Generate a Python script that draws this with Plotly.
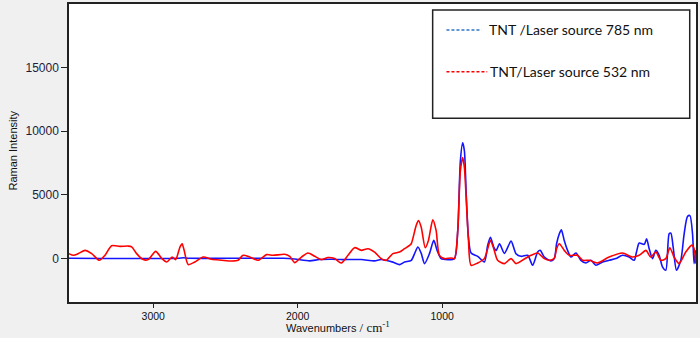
import plotly.graph_objects as go

# ---- data (wavenumber axis as printed on the reference, reversed) ----
red_x = [3583, 3553, 3518, 3472, 3426, 3373, 3334, 3288, 3230, 3173, 3149, 3115, 3069, 3035,
         2983, 2942, 2907, 2869, 2845, 2815, 2800, 2786, 2758, 2712, 2654, 2597, 2527, 2458,
         2413, 2378, 2332, 2274, 2216, 2171, 2090, 2055, 2021, 1974, 1929, 1882, 1836, 1790,
         1744, 1698, 1652, 1606, 1560, 1514, 1468, 1422, 1387, 1341, 1295, 1260, 1226, 1214,
         1180, 1164, 1145, 1117, 1095, 1065, 1042, 1019, 984, 938, 915, 892, 874, 858, 846,
         834, 818, 800, 754, 708, 685, 666, 643, 616, 569, 523, 489, 431, 385, 339, 293, 258,
         224, 208, 189, 155, 120, 63, 28, -18, -75, -156, -248, -317, -364, -410, -444, -479,
         -514, -548, -576, -605, -640, -686, -728, -744, -756]
red_y = [370, 234, 370, 625, 370, -156, 234, 990, 937, 960, 900, 370, -104, -104,
         547, 0, -290, 100, -104, 885, 1146, 625, -495, -290, 100, -80, -150, -210,
         -150, 234, 100, -156, 290, 234, 312, 150, -340, 100, 415, 156, -104, 60,
         -25, -365, 234, 835, 625, 755, 490, -25, -156, 370, 490, 755, 1016, 1146,
         2578, 2970, 2445, 835, 1406, 3020, 2190, 234, -25, 25, -25, 2190, 6875, 7915, 7130,
         4790, 1406, -547, -365, -25, 755, 1406, 755, -156, -415, -25, -415, -60, 234, 415, -25, -156,
         0, 755, 1146, 625, 234, 234, -156, -156, -365, 100, 415, 100, 234, 625, 100, 490,
         -156, -25, 835, 100, -415, 490, 1040, 755, -415]

blue_x = [3583, 2830, 2790, 2750, 2100, 2021, 1917, 1850, 1760, 1700, 1560, 1468, 1422, 1341,
          1295, 1260, 1214, 1191, 1168, 1145, 1122, 1088, 1058, 1035, 1007, 961, 915, 892, 874,
          858, 846, 834, 818, 800, 754, 708, 685, 666, 643, 626, 603, 569, 523, 489, 454, 408,
          374, 339, 321, 293, 247, 224, 208, 189, 175, 155, 132, 109, 74, 40, 5, -30, -64, -110,
          -156, -202, -248, -294, -329, -345, -364, -399, -415, -433, -456, -479, -502, -525,
          -548, -571, -583, -599, -622, -652, -675, -698, -715, -733, -744, -756]
blue_y = [0, 0, 40, 0, 0, -60, -200, -100, -80, -100, -100, -200, -100, -300,
          -495, -290, -156, 365, 885, 390, -415, 365, 1406, 625, -25, -104, -25, 2190, 7656,
          9086, 8437, 5180, 1660, 415, 156, -290, 1016, 1660, 885, 625, 1146, 390, 1350, 365, 156, 234,
          -547, 490, 625, 100, -200, -25, 1146, 1925, 2240, 1406, 625, 100, 415, -156, -365, -156, -547, -290,
          -156, -25, 234, 100, -156, 490, 1200, 1100, 1536, 755, -25, 625, 234, -677,
          -937, 1925, 1980, 885, -937, -156, 1925, 3280, 3360, 1925, -415, 625]

x_ticks = [3000, 2000, 1000]
y_ticks = [0, 5000, 10000, 15000]
legend_labels = ["TNT /Laser source 785 nm", "TNT/Laser source 532 nm"]

fig = go.Figure()
fig.add_trace(go.Scatter(x=blue_x, y=blue_y, mode="lines", showlegend=False,
                         line=dict(color="#1414ff", width=1.6, shape="spline", smoothing=0.7)))
fig.add_trace(go.Scatter(x=red_x, y=red_y, mode="lines", showlegend=False,
                         line=dict(color="#ff0000", width=1.6, shape="spline", smoothing=0.7)))

# Legend box drawn as a framed panel
fig.add_shape(type="rect", xref="paper", yref="paper", x0=0.580, x1=0.990, y0=0.617, y1=0.980,
              line=dict(color="#222222", width=1.5), fillcolor="white", layer="above")
fig.add_shape(type="line", xref="paper", yref="paper", x0=0.602, x1=0.658, y0=0.913, y1=0.913,
              line=dict(color="#2e75c6", width=1.5, dash="3px,2px"), layer="above")
fig.add_shape(type="line", xref="paper", yref="paper", x0=0.602, x1=0.667, y0=0.773, y1=0.773,
              line=dict(color="#ff0000", width=1.5, dash="3px,2px"), layer="above")
fig.add_annotation(xref="paper", yref="paper", x=0.667, y=0.913, xanchor="left", yanchor="middle",
                   text=legend_labels[0], showarrow=False,
                   font=dict(family="Lato", size=14, color="#111111"))
fig.add_annotation(xref="paper", yref="paper", x=0.669, y=0.773, xanchor="left", yanchor="middle",
                   text=legend_labels[1], showarrow=False,
                   font=dict(family="Lato", size=14, color="#111111"))

# Axis titles
fig.add_annotation(xref="paper", yref="paper", x=(338 - 69) / 628, y=-0.085, xanchor="center",
                   yanchor="middle", showarrow=False,
                   text="Wavenumbers <span style='font-family:Liberation Serif;font-size:13px'>/ cm<sup>-1</sup></span>",
                   font=dict(family="Liberation Sans", size=11, color="#111111"))
fig.add_annotation(xref="paper", yref="paper", x=-0.09, y=0.507, xanchor="center", yanchor="middle",
                   textangle=-90, showarrow=False, text="Raman Intensity",
                   font=dict(family="Liberation Sans Narrow, Liberation Sans", size=11, color="#111111"))

fig.update_layout(
    width=700, height=338,
    margin=dict(l=69, r=3, t=2, b=36),
    paper_bgcolor="#f0f0f0", plot_bgcolor="white",
    showlegend=False,
)
fig.update_xaxes(range=[3583, -757], tickvals=x_ticks, tickformat="d", ticks="outside", ticklen=4,
                 tickcolor="#222222", showgrid=False, zeroline=False,
                 showline=True, linecolor="#222222", linewidth=1.5, mirror=True,
                 tickfont=dict(family="Liberation Sans", size=10.5, color="#111111"))
fig.update_yaxes(range=[-3437, 20000], tickvals=y_ticks, tickformat="d", ticks="outside", ticklen=6,
                 tickcolor="#222222", showgrid=False, zeroline=False,
                 showline=True, linecolor="#222222", linewidth=1.5, mirror=True,
                 tickfont=dict(family="Liberation Sans", size=12, color="#1c1c3c"))

fig.write_html("out.html")
